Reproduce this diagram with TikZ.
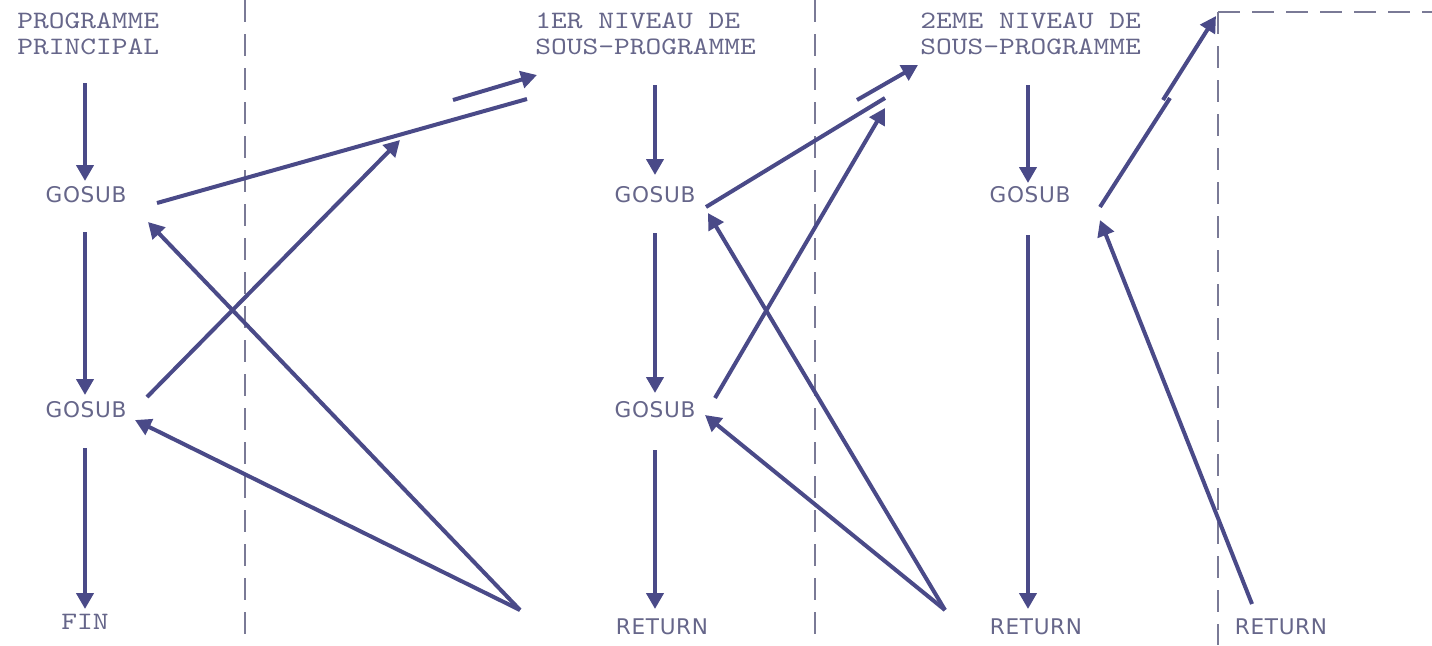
\documentclass[tikz,border=0pt]{standalone}
\usepackage{fontspec}
\newfontfamily\sansf{DejaVu Sans}[LetterSpace=3]
\newfontfamily\monof{lmmono10-regular}[Extension=.otf, FakeStretch=1.2]
\usetikzlibrary{arrows.meta}
\definecolor{arrowc}{HTML}{4A4A88}
\definecolor{textc}{HTML}{66668A}
\definecolor{dashc}{HTML}{7A7A96}
\tikzset{
 hdr/.style={anchor=north west, inner sep=0pt, align=left, text=textc, font=\fontsize{12.5}{13}\monof},
 lbl/.style={inner sep=0pt, text=textc, font=\fontsize{10.8}{12}\sansf},
 mlbl/.style={inner sep=0pt, text=textc, font=\fontsize{12.5}{13}\monof},
 arr/.style={draw=arrowc, line width=2pt, -{Triangle[length=8pt,width=8.5pt]}},
 seg/.style={draw=arrowc, line width=2pt},
 sep/.style={draw=dashc, line width=0.8pt, dash pattern=on 11pt off 6pt},
}
\begin{document}
\begin{tikzpicture}[x=0.5pt,y=-0.5pt]
\fill[white] (0,0) rectangle (1432,645);
\useasboundingbox (0,0) rectangle (1432,645);
% separators
\coordinate (s1t) at (245,0); \coordinate (s1b) at (245,645);
\coordinate (s2t) at (815,0); \coordinate (s2b) at (815,645);
\coordinate (s3c) at (1218,12); \coordinate (s3b) at (1218,645); \coordinate (s3r) at (1432,12);
\draw[sep] (s1t) -- (s1b);
\draw[sep] (s2t) -- (s2b);
\draw[sep] (s3c) -- (s3b);
\draw[sep] (s3c) -- (s3r);
% headers
\node[hdr] (h1) at (17,13) {PROGRAMME\\PRINCIPAL};
\node[hdr] (h2) at (535,13) {1ER NIVEAU DE\\SOUS-PROGRAMME};
\node[hdr] (h3) at (920,13) {2EME NIVEAU DE\\SOUS-PROGRAMME};
% labels
\node[lbl] (g11) at (86,195) {GOSUB};
\node[lbl] (g12) at (86,410) {GOSUB};
\node[mlbl] (fin) at (85,622) {FIN};
\node[lbl] (g21) at (655,195) {GOSUB};
\node[lbl] (g22) at (655,410) {GOSUB};
\node[lbl] (r2) at (662,627) {RETURN};
\node[lbl] (g31) at (1030,195) {GOSUB};
\node[lbl] (r3) at (1036,627) {RETURN};
\node[lbl] (r4) at (1281,627) {RETURN};
% vertical flow coordinates
\coordinate (v1a) at (85,83);  \coordinate (v1b) at (85,181);
\coordinate (v1c) at (85,232); \coordinate (v1d) at (85,395);
\coordinate (v1e) at (85,448); \coordinate (v1f) at (85,609);
\coordinate (v2a) at (655,85);  \coordinate (v2b) at (655,175);
\coordinate (v2c) at (655,233); \coordinate (v2d) at (655,393);
\coordinate (v2e) at (655,450); \coordinate (v2f) at (655,609);
\coordinate (v3a) at (1028,85);  \coordinate (v3b) at (1028,183);
\coordinate (v3c) at (1028,235); \coordinate (v3d) at (1028,609);
\draw[arr] (v1a) -- (v1b);
\draw[arr] (v1c) -- (v1d);
\draw[arr] (v1e) -- (v1f);
\draw[arr] (v2a) -- (v2b);
\draw[arr] (v2c) -- (v2d);
\draw[arr] (v2e) -- (v2f);
\draw[arr] (v3a) -- (v3b);
\draw[arr] (v3c) -- (v3d);
% cross connectors, column 1
\coordinate (c1a) at (157,203); \coordinate (c1b) at (527,99);
\coordinate (c1c) at (453,100); \coordinate (c1d) at (537,75);
\coordinate (c2a) at (147,397); \coordinate (c2b) at (400,140);
\coordinate (p1) at (520,610);
\coordinate (c3b) at (148,222); \coordinate (c4b) at (135,420);
\draw[seg] (c1a) -- (c1b);
\draw[arr] (c1c) -- (c1d);
\draw[arr] (c2a) -- (c2b);
\draw[arr] (p1) -- (c3b);
\draw[arr] (p1) -- (c4b);
% column 2
\coordinate (c5a) at (706,207); \coordinate (c5b) at (885,98);
\coordinate (c5c) at (857,100); \coordinate (c5d) at (918,65);
\coordinate (c6a) at (715,398); \coordinate (c6b) at (885,108);
\coordinate (p2) at (945,610);
\coordinate (c7b) at (708,213); \coordinate (c8b) at (705,415);
\draw[seg] (c5a) -- (c5b);
\draw[arr] (c5c) -- (c5d);
\draw[arr] (c6a) -- (c6b);
\draw[arr] (p2) -- (c7b);
\draw[arr] (p2) -- (c8b);
% column 3
\coordinate (c9a) at (1100,207); \coordinate (c9b) at (1170,98);
\coordinate (c9c) at (1163,100); \coordinate (c9d) at (1216,16);
\coordinate (p3) at (1252,604); \coordinate (c10b) at (1100,220);
\draw[seg] (c9a) -- (c9b);
\draw[arr] (c9c) -- (c9d);
\draw[arr] (p3) -- (c10b);
\end{tikzpicture}
\end{document}
